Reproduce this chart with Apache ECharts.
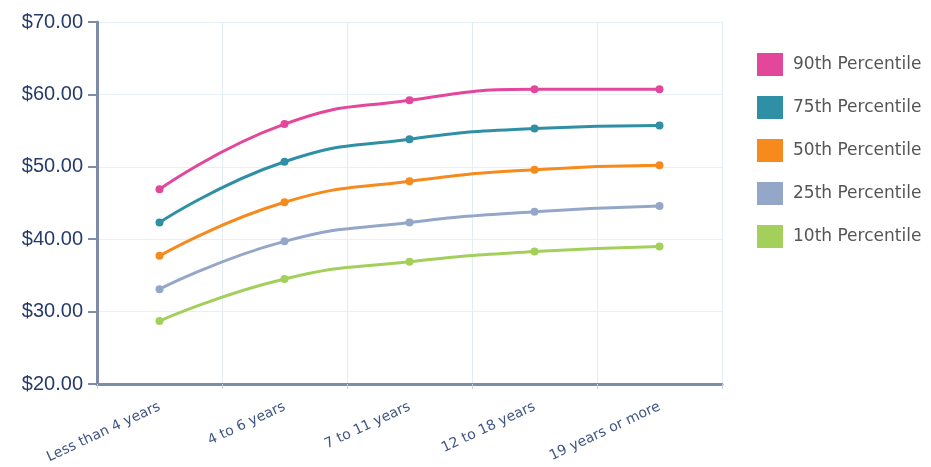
<!DOCTYPE html>
<html>
<head>
<meta charset="utf-8">
<script src="https://cdn.jsdelivr.net/npm/echarts@6/dist/echarts.min.js"></script>
<style>
html, body { margin: 0; padding: 0; background: #fff; }
#chart { width: 931px; height: 467px; }
</style>
</head>
<body>
<div id="chart"></div>
<script>
// categories and series values
var categories = ['Less than 4 years', '4 to 6 years', '7 to 11 years', '12 to 18 years', '19 years or more'];
var p90 = [46.9, 55.9, 59.2, 60.7, 60.7];
var p75 = [42.3, 50.7, 53.8, 55.3, 55.7];
var p50 = [37.7, 45.1, 48.0, 49.6, 50.2];
var p25 = [33.1, 39.7, 42.3, 43.8, 44.6];
var p10 = [28.7, 34.5, 36.9, 38.3, 39.0];
var seriesNames = ['90th Percentile', '75th Percentile', '50th Percentile', '25th Percentile', '10th Percentile'];
var colors = ['#e2479b', '#2f8fa4', '#f68a1c', '#95a7c8', '#a3cf5b'];

var chart = echarts.init(document.getElementById('chart'));

function makeLine(name, data, color) {
    return {
        name: name,
        type: 'line',
        smooth: true,
        data: data,
        symbol: 'circle',
        symbolSize: 8,
        lineStyle: { width: 3, color: color },
        itemStyle: { color: color }
    };
}

var option = {
    animation: false,
    grid: { left: 97, right: 209, top: 22, bottom: 83 },
    legend: {
        orient: 'vertical',
        left: 757,
        top: 53,
        padding: 0,
        icon: 'rect',
        itemWidth: 26,
        itemHeight: 23,
        itemGap: 20,
        textStyle: { fontFamily: 'DejaVu Sans', fontSize: 17, color: '#555', padding: [0, 0, 0, 5] },
        data: seriesNames
    },
    xAxis: {
        type: 'category',
        data: categories,
        boundaryGap: true,
        axisLine: { lineStyle: { color: '#7d8ca8', width: 3 } },
        axisTick: { show: true, length: 5, lineStyle: { color: '#c9d0dc', width: 1 } },
        splitLine: { show: true, lineStyle: { color: '#e3edf4', width: 1 } },
        axisLabel: {
            rotate: 25,
            margin: 22,
            fontFamily: 'DejaVu Sans',
            fontSize: 14,
            color: '#3f5585'
        }
    },
    yAxis: {
        type: 'value',
        min: 20,
        max: 70,
        interval: 10,
        axisLine: { show: true, lineStyle: { color: '#7d8ca8', width: 3 } },
        axisTick: { show: true, length: 9, lineStyle: { color: '#7d8ca8', width: 2 } },
        splitLine: { show: true, lineStyle: { color: '#e8f0f6', width: 1 } },
        axisLabel: {
            margin: 14,
            fontFamily: 'Liberation Sans',
            fontSize: 20,
            color: '#263b6a',
            formatter: function (v) { return '$' + v.toFixed(2); }
        }
    },
    series: [
        makeLine(seriesNames[0], p90, colors[0]),
        makeLine(seriesNames[1], p75, colors[1]),
        makeLine(seriesNames[2], p50, colors[2]),
        makeLine(seriesNames[3], p25, colors[3]),
        makeLine(seriesNames[4], p10, colors[4])
    ]
};
chart.setOption(option);
</script>
</body>
</html>
